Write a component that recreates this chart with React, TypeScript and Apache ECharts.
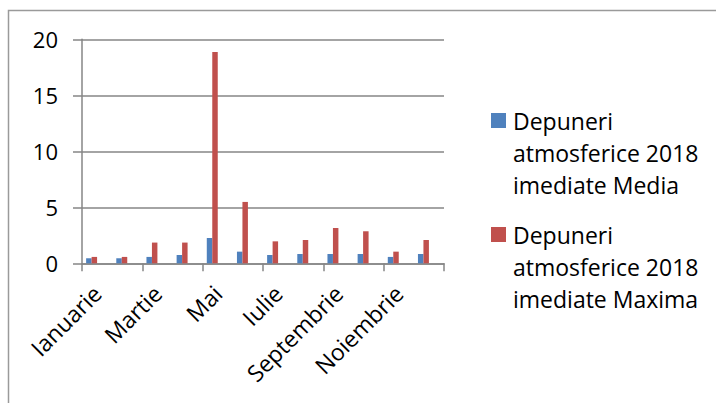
import React, { useEffect, useRef } from "react";
import * as echarts from "echarts";

const months = [
  "Ianuarie", "Februarie", "Martie", "Aprilie", "Mai", "Iunie",
  "Iulie", "August", "Septembrie", "Octombrie", "Noiembrie", "Decembrie",
];
const mediaValues = [0.45, 0.45, 0.57, 0.74, 2.26, 1.04, 0.74, 0.83, 0.83, 0.83, 0.57, 0.83];
const maximaValues = [0.57, 0.57, 1.85, 1.85, 18.87, 5.48, 1.96, 2.08, 3.15, 2.86, 1.04, 2.08];
const seriesNames = [
  "Depuneri\natmosferice 2018\nimediate Media",
  "Depuneri\natmosferice 2018\nimediate Maxima",
];
const yTicks = [0, 5, 10, 15, 20];

export default function App() {
  const ref = useRef<HTMLDivElement>(null);
  useEffect(() => {
    if (!ref.current) return;
    const chart = echarts.init(ref.current, null, { renderer: "svg" });
    const font = "'Open Sans', sans-serif";
    const gray = "#868686";
    chart.setOption({
      animation: false,
      backgroundColor: "#ffffff",
      textStyle: { fontFamily: font },
      graphic: [
        {
          type: "rect",
          shape: { x: 8.5, y: 10.5, width: 760, height: 460 },
          style: { fill: "none", stroke: "#9a9a9a", lineWidth: 1.5 },
          silent: true,
        },
      ],
      legend: {
        orient: "vertical",
        left: 491,
        top: 40.5,
        padding: 0,
        data: seriesNames,
        itemWidth: 15,
        itemHeight: 15,
        itemGap: -46,
        icon: "rect",
        formatter: (name: string) => "\n\n" + name,
        textStyle: {
          fontFamily: font,
          fontSize: 23,
          color: "#000",
          lineHeight: 32,
          padding: [0, 0, 0, 2],
        },
      },
      grid: { left: 82, right: 272, top: 39.3, bottom: 139.7, containLabel: false },
      xAxis: {
        type: "category",
        data: months,
        axisLine: { show: true, lineStyle: { color: gray, width: 1.5 } },
        axisTick: { show: true, length: 8, alignWithLabel: false, lineStyle: { color: gray, width: 1.5 } },
        axisLabel: {
          interval: 1,
          rotate: 45,
          fontFamily: font,
          fontSize: 23,
          color: "#000",
          margin: 26,
        },
        splitLine: { show: false },
      },
      yAxis: {
        type: "value",
        min: yTicks[0],
        max: yTicks[yTicks.length - 1],
        interval: 5,
        axisLine: { show: true, lineStyle: { color: gray, width: 1.5 } },
        axisTick: { show: true, length: 9, inside: false, lineStyle: { color: gray, width: 1.5 } },
        axisLabel: { fontFamily: font, fontSize: 22, color: "#000", margin: 24 },
        splitLine: { show: true, lineStyle: { color: gray, width: 1.5 } },
      },
      series: [
        {
          name: seriesNames[0],
          type: "bar",
          data: mediaValues,
          itemStyle: { color: "#4F81BD" },
          barGap: "0%",
          barCategoryGap: "27.3%",
        },
        {
          name: seriesNames[1],
          type: "bar",
          data: maximaValues,
          itemStyle: { color: "#C0504D" },
          barGap: "0%",
          barCategoryGap: "27.3%",
        },
        { name: "s3", type: "bar", data: [], barGap: "0%", barCategoryGap: "27.3%" },
        { name: "s4", type: "bar", data: [], barGap: "0%", barCategoryGap: "27.3%" },
      ],
    });
    return () => chart.dispose();
  }, []);
  return (
    <div
      ref={ref}
      style={{ position: "fixed", left: 0, top: 0, width: 716, height: 403 }}
    />
  );
}
